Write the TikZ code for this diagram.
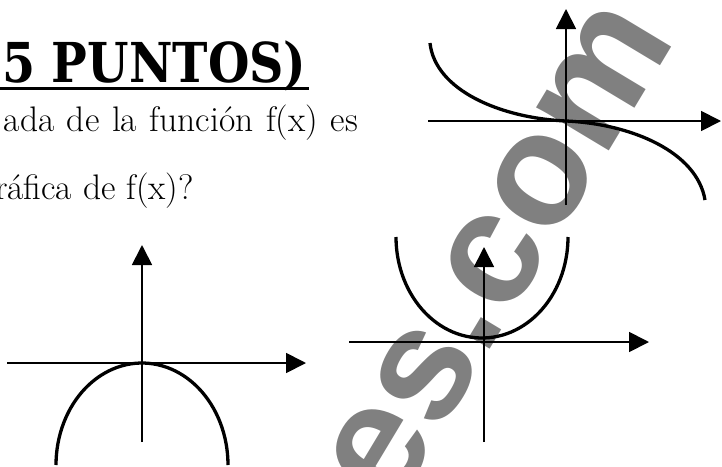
\documentclass[tikz,border=0pt]{standalone}
\usepackage{fontspec}
\usepackage{graphicx}
\newfontfamily\titlefont{DejaVu Serif}
\newfontfamily\wmfont{Liberation Sans}
\usetikzlibrary{arrows.meta}
\definecolor{wmgray}{HTML}{808080}
\begin{document}
\begin{tikzpicture}[x=1pt,y=-1pt,
  axis/.style={line width=1.8pt,-{Triangle[length=20pt,width=20pt]}},
  curve/.style={line width=3.3pt},
  wm/.style={font=\wmfont\bfseries\fontsize{160}{160}\selectfont, text=wmgray, rotate=59, inner sep=0pt},
  body/.style={anchor=base east, inner sep=0pt, font=\fontsize{35.5}{40}\selectfont}]
\useasboundingbox (0,0) rectangle (722,466);
% watermark
\node[wm] (wm) at (499,253) {es.com};
% title
\node[anchor=base west, inner sep=0pt] (title) at (2,82) {\scalebox{0.865}[1]{\titlefont\bfseries\fontsize{55}{60}\selectfont 5 PUNTOS)}};
\draw[line width=3pt] (0,88) -- ([xshift=2pt,yshift=-6pt]title.base east);
% body text
\node[body] (l1) at (358,131) {\makebox[354pt][s]{ada de la función f(x) es}};
\node[body] (l2) at (194,199) {ráfica de f(x)?};
% graph A
\coordinate (Ab) at (142,442); \coordinate (At) at (142,245);
\coordinate (Al) at (7,363); \coordinate (Ar) at (306,363);
\draw[axis] (Ab) -- (At);
\draw[axis] (Al) -- (Ar);
\draw[curve] plot[domain=0:180,samples=60] ({142+86*cos(\x)},{465-102*sin(\x)});
% graph B
\coordinate (Bb) at (484,442); \coordinate (Bt) at (484,247);
\coordinate (Bl) at (349,342); \coordinate (Br) at (649,342);
\draw[axis] (Bb) -- (Bt);
\draw[axis] (Bl) -- (Br);
\draw[curve] plot[domain=180:360,samples=60] ({482+86*cos(\x)},{237-101*sin(\x)});
% graph C
\coordinate (Cb) at (566,205); \coordinate (Ct) at (566,9);
\coordinate (Cl) at (428,121); \coordinate (Cr) at (721,121);
\draw[axis] (Cb) -- (Ct);
\draw[axis] (Cl) -- (Cr);
\draw[curve] (430,43) .. controls (435,90) and (500,118) .. (566,121)
  .. controls (632,124) and (697,152) .. (705,200);
\end{tikzpicture}
\end{document}
